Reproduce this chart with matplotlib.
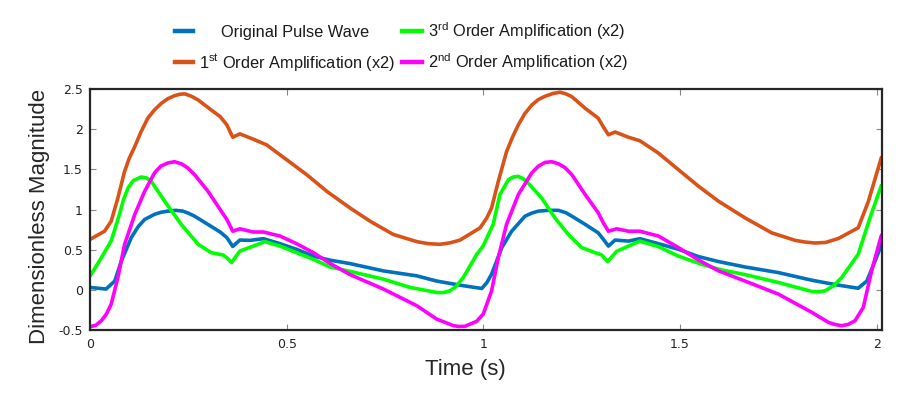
import matplotlib
matplotlib.use("Agg")
import matplotlib.pyplot as plt
from matplotlib.lines import Line2D

plt.rcParams['mathtext.fontset'] = 'custom'
plt.rcParams['mathtext.rm'] = 'Liberation Sans'
plt.rcParams['mathtext.it'] = 'Liberation Sans:italic'

# ---- data ----
t_orig = [0.0, 0.041, 0.063, 0.08, 0.105, 0.123, 0.139, 0.164, 0.18, 0.198, 0.218, 0.236, 0.25, 0.266,
          0.308, 0.331, 0.348, 0.363, 0.381, 0.407, 0.441, 0.483, 0.525, 0.568, 0.61, 0.661, 0.746,
          0.831, 0.881, 0.941, 0.996, 1.009, 1.021, 1.047, 1.072, 1.106, 1.123, 1.14, 1.165, 1.191,
          1.21, 1.225, 1.259, 1.292, 1.305, 1.318, 1.335, 1.369, 1.398, 1.445, 1.496, 1.547, 1.598,
          1.665, 1.75, 1.835, 1.903, 1.953, 1.975, 1.996, 2.012]
v_orig = [0.03, 0.01, 0.11, 0.36, 0.65, 0.79, 0.876, 0.94, 0.965, 0.98, 0.99, 0.98, 0.955, 0.917,
          0.79, 0.72, 0.65, 0.54, 0.62, 0.616, 0.637, 0.575, 0.505, 0.42, 0.37, 0.327, 0.236,
          0.174, 0.11, 0.058, 0.017, 0.09, 0.195, 0.526, 0.73, 0.917, 0.955, 0.98, 0.99, 0.99,
          0.96, 0.917, 0.815, 0.71, 0.63, 0.545, 0.62, 0.607, 0.637, 0.575, 0.505, 0.414, 0.352,
          0.285, 0.215, 0.12, 0.058, 0.02, 0.11, 0.36, 0.56]

t_1st = [0.0, 0.037, 0.054, 0.071, 0.088, 0.1, 0.114, 0.13, 0.147, 0.164, 0.181, 0.198, 0.215, 0.228,
         0.241, 0.258, 0.275, 0.308, 0.331, 0.348, 0.363, 0.381, 0.415, 0.449, 0.5, 0.551, 0.602,
         0.661, 0.712, 0.771, 0.831, 0.86, 0.89, 0.915, 0.941, 0.992, 1.009, 1.021, 1.038, 1.059,
         1.074, 1.089, 1.105, 1.123, 1.14, 1.157, 1.177, 1.195, 1.21, 1.225, 1.259, 1.292, 1.305,
         1.318, 1.335, 1.369, 1.398, 1.445, 1.496, 1.547, 1.598, 1.665, 1.733, 1.793, 1.818, 1.843,
         1.87, 1.903, 1.953, 1.979, 2.012]
v_1st = [0.628, 0.73, 0.855, 1.145, 1.475, 1.64, 1.785, 1.97, 2.137, 2.24, 2.32, 2.38, 2.417, 2.435,
         2.44, 2.41, 2.364, 2.24, 2.157, 2.054, 1.90, 1.942, 1.876, 1.805, 1.62, 1.434, 1.227,
         1.02, 0.855, 0.69, 0.6, 0.575, 0.567, 0.585, 0.62, 0.773, 0.897, 1.02, 1.35, 1.72,
         1.9, 2.054, 2.19, 2.3, 2.37, 2.41, 2.445, 2.46, 2.44, 2.405, 2.26, 2.137, 2.03,
         1.93, 1.965, 1.90, 1.856, 1.703, 1.496, 1.29, 1.103, 0.897, 0.71, 0.616, 0.595, 0.583,
         0.59, 0.64, 0.773, 1.103, 1.65]

t_3rd = [0.0, 0.029, 0.054, 0.075, 0.085, 0.097, 0.11, 0.13, 0.143, 0.156, 0.19, 0.232, 0.275, 0.308,
         0.338, 0.348, 0.36, 0.381, 0.415, 0.445, 0.483, 0.525, 0.568, 0.61, 0.661, 0.746, 0.814,
         0.881, 0.898, 0.915, 0.93, 0.949, 0.983, 1.0, 1.025, 1.042, 1.064, 1.076, 1.089, 1.101,
         1.114, 1.148, 1.182, 1.216, 1.25, 1.284, 1.301, 1.316, 1.339, 1.369, 1.398, 1.445, 1.496,
         1.555, 1.606, 1.665, 1.75, 1.835, 1.852, 1.869, 1.89, 1.911, 1.953, 1.983, 2.012]
v_3rd = [0.17, 0.40, 0.61, 0.94, 1.12, 1.27, 1.36, 1.405, 1.395, 1.35, 1.103, 0.815, 0.567, 0.463,
         0.434, 0.40, 0.34, 0.483, 0.545, 0.60, 0.545, 0.463, 0.38, 0.285, 0.23, 0.133, 0.03,
         -0.032, -0.035, -0.012, 0.04, 0.153, 0.44, 0.55, 0.815, 1.186, 1.372, 1.405, 1.413, 1.385,
         1.33, 1.145, 0.897, 0.69, 0.526, 0.463, 0.434, 0.352, 0.48, 0.545, 0.607, 0.538, 0.42,
         0.318, 0.248, 0.19, 0.092, -0.02, -0.025, -0.012, 0.05, 0.153, 0.443, 0.897, 1.30]

t_2nd = [0.0, 0.015, 0.029, 0.042, 0.054, 0.071, 0.088, 0.114, 0.139, 0.164, 0.18, 0.198, 0.215, 0.232,
         0.248, 0.266, 0.3, 0.331, 0.348, 0.363, 0.381, 0.415, 0.441, 0.483, 0.525, 0.568, 0.61,
         0.661, 0.746, 0.831, 0.881, 0.924, 0.938, 0.953, 0.983, 1.0, 1.021, 1.038, 1.059, 1.089,
         1.123, 1.14, 1.157, 1.174, 1.191, 1.208, 1.225, 1.259, 1.292, 1.305, 1.318, 1.339, 1.369,
         1.398, 1.445, 1.496, 1.547, 1.598, 1.665, 1.75, 1.835, 1.877, 1.893, 1.911, 1.928, 1.945,
         1.966, 1.987, 2.012]
v_2nd = [-0.46, -0.44, -0.384, -0.3, -0.177, 0.154, 0.567, 0.94, 1.227, 1.455, 1.54, 1.58, 1.595, 1.57,
         1.52, 1.434, 1.227, 1.0, 0.876, 0.73, 0.76, 0.72, 0.72, 0.67, 0.575, 0.463, 0.33,
         0.19, 0.01, -0.198, -0.363, -0.446, -0.456, -0.454, -0.392, -0.30, -0.012, 0.40, 0.815, 1.186,
         1.455, 1.54, 1.587, 1.595, 1.57, 1.52, 1.434, 1.186, 0.96, 0.835, 0.73, 0.76, 0.73,
         0.73, 0.67, 0.526, 0.372, 0.236, 0.11, -0.053, -0.28, -0.404, -0.43, -0.446, -0.43, -0.384,
         -0.218, 0.236, 0.68]

labels = ["Original Pulse Wave",
          r"1$^{\mathrm{st}}$ Order Amplification (x2)",
          r"3$^{\mathrm{rd}}$ Order Amplification (x2)",
          r"2$^{\mathrm{nd}}$ Order Amplification (x2)"]
colors = ["#0072BD", "#D95319", "#00FF00", "#FF00FF"]

x_ticks = [0, 0.5, 1, 1.5, 2]
x_ticklabels = ["0", "0.5", "1", "1.5", "2"]
y_ticks = [-0.5, 0, 0.5, 1, 1.5, 2, 2.5]
y_ticklabels = ["-0.5", "0", "0.5", "1", "1.5", "2", "2.5"]

# ---- figure ----
W, H = 919, 394
fig = plt.figure(figsize=(W / 100, H / 100), dpi=100)
ax = fig.add_axes([0.0979, 0.1624, 0.8615, 0.6116])

series = [(t_orig, v_orig), (t_1st, v_1st), (t_3rd, v_3rd), (t_2nd, v_2nd)]
for (tt, vv), lab, col in zip(series, labels, colors):
    ax.plot(tt, vv, color=col, lw=2.6, label=lab, solid_capstyle='round', solid_joinstyle='round')

ax.set_xlim(0, 2.0127)
ax.set_ylim(-0.5, 2.5)
ax.set_xticks(x_ticks)
ax.set_xticklabels(x_ticklabels)
ax.set_yticks(y_ticks)
ax.set_yticklabels(y_ticklabels)
ax.tick_params(direction='in', length=4.5, width=0.8, color='#888888',
               top=True, right=True, labelsize=9, labelcolor='#222222')
ax.tick_params(axis='x', pad=6)
ax.tick_params(axis='y', pad=5)
for lab in ax.get_xticklabels() + ax.get_yticklabels():
    lab.set_family('DejaVu Sans')
for sp in ax.spines.values():
    sp.set_linewidth(1.6)
    sp.set_color('#262626')

ax.set_xlabel("Time (s)", family='Liberation Sans', fontsize=16, color='#262626')
ax.xaxis.set_label_coords(0.474, -0.12)
ax.set_ylabel("Dimensionless Magnitude", family='Liberation Sans', fontsize=16, color='#262626')
ax.yaxis.set_label_coords(-0.05, 0.471)

# ---- legend (two columns, drawn in figure pixel coordinates) ----
# (handle x0, handle x1, text x, baseline y) in pixels from top-left
legend_slots = [(175, 193, 221, 36.7),   # Original
                (175, 193, 199, 67.7),   # 1st
                (402, 422, 428, 36.7),   # 3rd
                (402, 422, 428, 67.7)]   # 2nd
for (x0, x1, xt, yb), lab, col in zip(legend_slots, labels, colors):
    yl = yb - 5.5
    fig.add_artist(Line2D([x0 / W, x1 / W], [1 - yl / H, 1 - yl / H], color=col, lw=3.2,
                          transform=fig.transFigure))
    fig.text(xt / W, 1 - yb / H, lab, family='Liberation Sans', fontsize=11.8,
             color='#1a1a1a', ha='left', va='baseline')

fig.savefig("out.png", dpi=100)
